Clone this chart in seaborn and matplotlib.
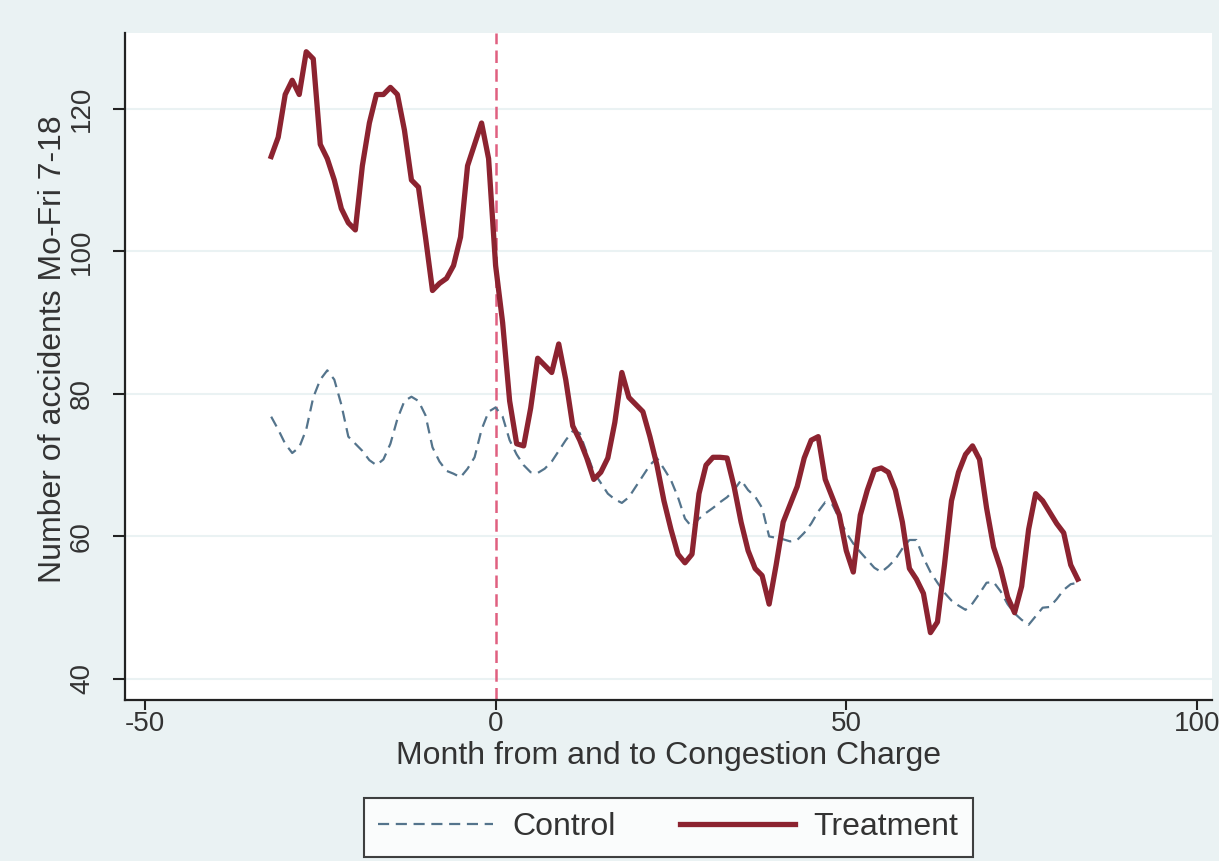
import matplotlib.pyplot as plt
import pandas as pd
import seaborn as sns

# Month relative to the congestion charge
months = list(range(-32, 84))

treatment = [
    113.3, 116, 122, 124, 122, 128, 127, 115, 113, 110, 106, 104, 103, 112,
    118, 122, 122, 123, 122, 117, 110, 109, 102, 94.5, 95.5, 96.2, 98, 102,
    112, 115, 118, 113, 98, 90, 79, 73, 72.7, 78, 85, 84, 83, 87, 82, 75.5,
    73.5, 71, 68, 69, 71, 76, 83, 79.5, 78.5, 77.5, 74, 70, 65, 61, 57.5,
    56.3, 57.5, 66, 70, 71.1, 71.1, 71, 67, 62, 58, 55.5, 54.5, 50.5, 56, 62,
    64.5, 67, 71, 73.5, 74, 68, 65.5, 63, 58, 55, 63, 66.5, 69.3, 69.6, 69,
    66.5, 62, 55.5, 54, 52, 46.5, 48, 56, 65, 69, 71.5, 72.7, 70.8, 64, 58.5,
    55.5, 51.5, 49.3, 53, 61, 66, 65, 63.4, 61.8, 60.5, 56, 54,
]

control = [
    76.8, 75, 73, 71.7, 72.5, 75, 79.5, 82, 83.3, 82, 78.5, 74, 73, 72, 70.7,
    70, 70.8, 73, 76.5, 79, 79.6, 79, 77, 72.5, 70.5, 69.2, 68.8, 68.3, 69.5,
    71.1, 75, 77.5, 78.1, 76.8, 73.5, 71.5, 70, 69, 68.9, 69.5, 70.5, 72,
    73.5, 74.8, 74.5, 71.7, 69, 67.5, 66, 65.2, 64.7, 65.5, 67, 68.5, 70, 71,
    69.5, 67.9, 65.5, 62.5, 61.3, 62.5, 63.3, 64, 64.8, 65.5, 66.5, 67.9,
    66.5, 65.6, 64, 60, 59.8, 59.6, 59.3, 59.5, 60.5, 61.8, 63.5, 64.8, 64.5,
    62.5, 60.5, 59, 57.8, 56.7, 55.6, 55, 55.8, 56.8, 58.3, 59.5, 59.5, 57,
    55, 53.5, 52.1, 51, 50.3, 49.7, 50.6, 52, 53.5, 53.6, 52.3, 50.5, 49.2,
    48.3, 47.6, 48.8, 50, 50.1, 51.2, 52.5, 53.3, 53.5,
]

groups = ["Control", "Treatment"]
y_ticks = [40, 60, 80, 100, 120]
x_ticks = [-50, 0, 50, 100]

df = pd.DataFrame({
    "month": months * 2,
    "accidents": control + treatment,
    "group": ["Control"] * len(months) + ["Treatment"] * len(months),
})

bg = "#eaf2f3"
colors = {"Control": "#54748c", "Treatment": "#8c2330"}

plt.rcParams["font.family"] = ["Liberation Sans", "DejaVu Sans"]
fig = plt.figure(figsize=(12.19, 8.61), dpi=100, facecolor=bg)
ax = fig.add_axes([0.1025, 0.187, 0.8915, 0.775])
ax.set_facecolor("white")

for g in groups:
    sub = df[df["group"] == g]
    sns.lineplot(
        data=sub, x="month", y="accidents", ax=ax,
        color=colors[g],
        linewidth=1.6 if g == "Control" else 3.8,
        linestyle=(0, (5, 3)) if g == "Control" else "-",
        label=g, legend=False,
    )

# Start of the congestion charge
ax.axvline(0, color="#e06080", linestyle=(0, (5, 2.5)), linewidth=1.8, zorder=1)

ax.set_xlim(-52.85, 102.1)
ax.set_ylim(37.05, 130.67)
ax.set_xticks(x_ticks)
ax.set_yticks(y_ticks)
ax.set_xticklabels([str(t) for t in x_ticks], fontsize=20, color="#333333")
ax.set_yticklabels([str(t) for t in y_ticks], fontsize=20, color="#333333",
                   rotation=90, va="center")
ax.yaxis.grid(True, color="#eaf2f3", linewidth=1.5)
ax.xaxis.grid(False)
ax.set_axisbelow(True)
for s in ["top", "right"]:
    ax.spines[s].set_visible(False)
for s in ["left", "bottom"]:
    ax.spines[s].set_linewidth(1.6)
    ax.spines[s].set_color("#222222")
ax.tick_params(axis="y", direction="out", length=8.5, width=1.5,
               color="#222222", pad=13)
ax.tick_params(axis="x", direction="out", length=7, width=1.5,
               color="#222222", pad=1)

ax.set_xlabel("Month from and to Congestion Charge", fontsize=23,
              color="#333333", labelpad=3)
ax.set_ylabel("Number of accidents Mo-Fri 7-18", fontsize=23,
              color="#333333")
ax.yaxis.set_label_coords(-0.052, 0.525)

leg = ax.legend(
    handles=ax.get_lines()[:2], labels=groups,
    loc="upper center", bbox_to_anchor=(0.5, -0.147), borderaxespad=0,
    ncol=2, fontsize=23, frameon=True, fancybox=False, handlelength=3.6,
    columnspacing=2.0, handletextpad=0.6, borderpad=0.45,
)
leg.get_frame().set_edgecolor("#111111")
leg.get_frame().set_linewidth(1.5)
for t in leg.get_texts():
    t.set_color("#333333")

fig.savefig("out.png", dpi=100, facecolor=bg)
